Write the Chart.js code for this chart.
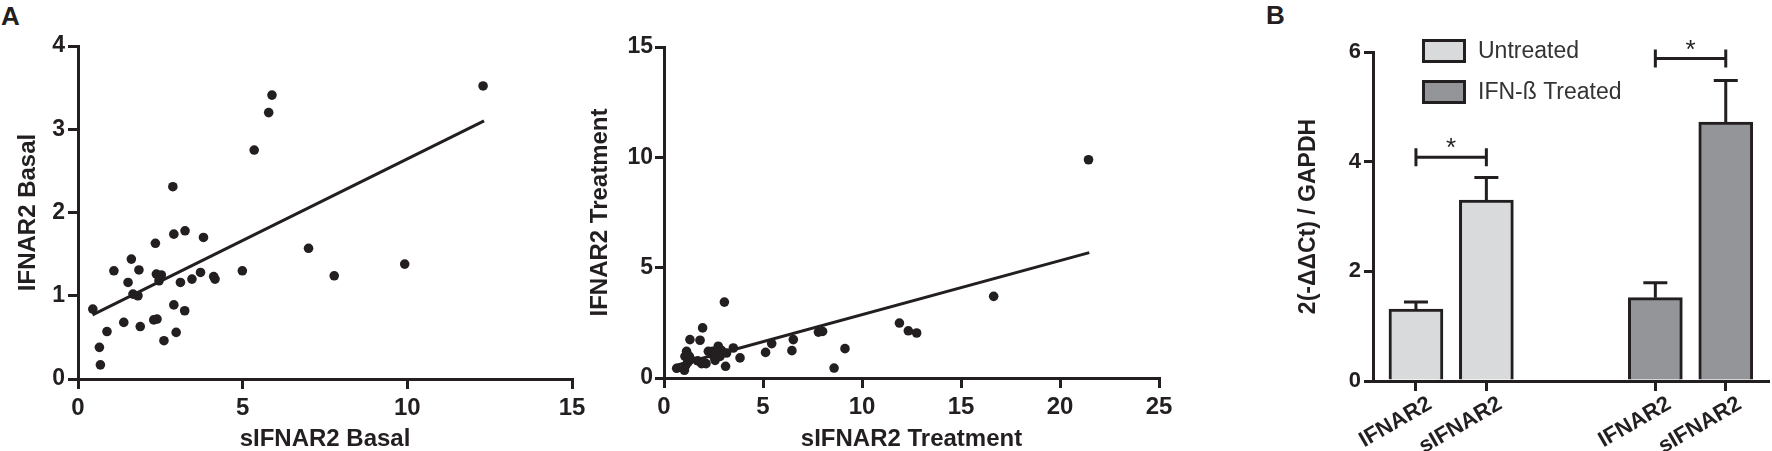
<!DOCTYPE html>
<html>
<head>
<meta charset="utf-8">
<script src="https://cdn.jsdelivr.net/npm/chart.js@4.4.0/dist/chart.umd.min.js"></script>
<style>
html,body{margin:0;padding:0;background:#fff;width:1772px;height:451px;overflow:hidden;position:relative;font-family:"Liberation Sans",Arial,Helvetica,sans-serif}
.pane{position:absolute;top:0;height:451px}
.lbl{position:absolute;font-weight:bold;font-size:26px;color:#231f20;line-height:1}
</style>
</head>
<body>
<div class="lbl" style="left:1px;top:3px">A</div>
<div class="lbl" style="left:1266px;top:2px">B</div>
<div class="pane" style="left:0;width:600px"><canvas id="c1"></canvas></div>
<div class="pane" style="left:560px;width:630px"><canvas id="c2"></canvas></div>
<div class="pane" style="left:1240px;width:532px"><canvas id="c3"></canvas></div>
<script>
// ---------- DATA ----------
// Panel A, left: basal
const basalX = [0.45,0.65,0.68,0.88,1.09,1.39,1.52,1.62,1.67,1.82,1.85,1.89,2.35,2.30,2.40,2.38,2.53,2.46,2.61,2.88,2.91,2.91,2.98,3.11,3.25,3.24,3.46,3.72,3.81,4.12,4.16,4.99,5.35,5.79,5.89,7.00,7.78,9.92,12.30];
const basalY = [0.84,0.38,0.17,0.57,1.30,0.68,1.16,1.44,1.02,1.00,1.31,0.63,1.63,0.71,0.72,1.26,1.25,1.18,0.46,2.31,1.74,0.89,0.56,1.16,1.78,0.82,1.20,1.28,1.70,1.23,1.20,1.30,2.75,3.20,3.41,1.57,1.24,1.38,3.52];
const basalFitX = [0.44, 12.33];
const basalFitY = [0.77, 3.10];
const basalXTicks = [0, 5, 10, 15];
const basalYTicks = [0, 1, 2, 3, 4];

// Panel A, middle: treatment
const treatX = [0.64,1.03,1.09,1.14,1.06,1.28,1.35,1.31,1.82,1.95,1.90,2.12,2.24,2.46,2.58,2.74,2.83,2.63,3.05,3.11,3.16,3.50,3.84,5.13,5.44,6.46,6.53,7.80,8.01,8.59,9.14,11.89,12.34,12.76,16.65,21.44,1.20,2.50,2.90,1.70];
const treatY = [0.44,0.35,0.56,1.21,0.98,0.98,0.83,1.74,1.71,2.27,0.65,0.65,1.21,1.21,0.80,1.44,0.98,1.13,3.44,0.53,1.13,1.36,0.91,1.16,1.56,1.24,1.74,2.08,2.11,0.45,1.33,2.49,2.14,2.04,3.70,9.89,0.70,1.00,1.25,0.78];
const treatFitX = [0.64, 21.48];
const treatFitY = [0.58, 5.68];
const treatXTicks = [0, 5, 10, 15, 20, 25];
const treatYTicks = [0, 5, 10, 15];

// Panel B: bars
const barLabels = ['IFNAR2', 'sIFNAR2', 'IFNAR2', 'sIFNAR2'];
const barPos = [1, 2, 4.4, 5.4];
const untreatedVals = [1.31, 3.30];
const untreatedErr = [0.13, 0.41];
const treatedVals = [1.52, 4.72];
const treatedErr = [0.27, 0.76];
const seriesNames = ['Untreated', 'IFN-\u00DF Treated'];
const sigPairs = [[0, 1, 4.08], [2, 3, 5.88]];
const barYTicks = [0, 2, 4, 6];

// ---------- STYLE ----------
const INK = '#231f20';
const FAM = '"Liberation Sans", Arial, Helvetica, sans-serif';
const LIGHT = '#d9dadb';
const DARK = '#939598';
Chart.defaults.font.family = FAM;
Chart.defaults.color = INK;

function fixedTicks(arr){ return s => { s.ticks = arr.map(v => ({value: v})); }; }
function axisBase(extra){
  return Object.assign({
    type: 'linear',
    grid: {display: true, drawOnChartArea: false, drawTicks: true, tickLength: 10, lineWidth: 3, color: INK, offset: false},
    border: {display: true, width: 3, color: INK}
  }, extra);
}

function scatterChart(id, xs, ys, fx, fy, cfg){
  return new Chart(document.getElementById(id), {
    type: 'scatter',
    data: {datasets: [
      {type: 'line', data: fx.map((x, i) => ({x: x, y: fy[i]})), borderColor: INK, borderWidth: 3, pointRadius: 0, fill: false, showLine: true},
      {type: 'scatter', data: xs.map((x, i) => ({x: x, y: ys[i]})), pointRadius: 4.8, pointBackgroundColor: INK, pointBorderWidth: 0, pointBorderColor: INK}
    ]},
    options: {
      responsive: true, maintainAspectRatio: false, animation: false,
      layout: {padding: cfg.pad},
      plugins: {legend: {display: false}, tooltip: {enabled: false}},
      scales: {
        x: axisBase({
          min: cfg.xMin, max: cfg.xMax,
          afterBuildTicks: fixedTicks(cfg.xTicks),
          afterFit: s => { s.height = cfg.xH; },
          ticks: {font: {size: 24, weight: 'bold'}, color: INK, padding: 5, maxRotation: 0},
          title: {display: true, text: cfg.xTitle, color: INK, font: {size: 24, weight: 'bold', lineHeight: 1}, padding: {top: 0, bottom: 0}}
        }),
        y: axisBase({
          min: cfg.yMin, max: cfg.yMax,
          afterBuildTicks: fixedTicks(cfg.yTicks),
          afterFit: s => { s.width = cfg.yW; },
          grid: {display: true, drawOnChartArea: false, drawTicks: true, tickLength: cfg.yTL, lineWidth: 3, color: INK, offset: false},
          ticks: {font: {size: 23, weight: 'bold'}, color: INK, padding: cfg.yTP},
          title: {display: true, text: cfg.yTitle, color: INK, font: {size: 24, weight: 'bold', lineHeight: 1}, padding: {top: cfg.yTitlePad, bottom: 0}}
        })
      }
    }
  });
}

scatterChart('c1', basalX, basalY, basalFitX, basalFitY, {
  pad: {left: 0, right: 28, top: 46, bottom: 0},
  xMin: 0, xMax: 15, yMin: 0, yMax: 4, xTicks: basalXTicks, yTicks: basalYTicks,
  xH: 72, yW: 78, yTL: 10, yTP: 3, yTitlePad: 16,
  xTitle: 'sIFNAR2 Basal', yTitle: 'IFNAR2 Basal'
});
scatterChart('c2', treatX, treatY, treatFitX, treatFitY, {
  pad: {left: 0, right: 31, top: 47, bottom: 0},
  xMin: 0, xMax: 25, yMin: 0, yMax: 15, xTicks: treatXTicks, yTicks: treatYTicks,
  xH: 73, yW: 104, yTL: 9, yTP: 2, yTitlePad: 28,
  xTitle: 'sIFNAR2 Treatment', yTitle: 'IFNAR2 Treatment'
});

// ---------- Panel B ----------
const errorBars = {
  id: 'errorBars',
  afterDatasetsDraw(chart){
    const ctx = chart.ctx, y = chart.scales.y;
    chart.data.datasets.forEach((ds, di) => {
      const meta = chart.getDatasetMeta(di);
      meta.data.forEach((bar, i) => {
        const v = ds.data[i].y, e = ds.errors[i];
        const yTop = y.getPixelForValue(v + e), yBar = y.getPixelForValue(v);
        ctx.save();
        ctx.strokeStyle = INK; ctx.lineWidth = 3; ctx.lineCap = 'butt';
        ctx.beginPath();
        ctx.moveTo(bar.x, yBar); ctx.lineTo(bar.x, yTop);
        ctx.moveTo(bar.x - 12, yTop); ctx.lineTo(bar.x + 12, yTop);
        ctx.stroke();
        ctx.restore();
      });
    });
  }
};
const sigBrackets = {
  id: 'sigBrackets',
  afterDatasetsDraw(chart){
    const ctx = chart.ctx, x = chart.scales.x, y = chart.scales.y;
    sigPairs.forEach(p => {
      const x1 = x.getPixelForValue(barPos[p[0]]), x2 = x.getPixelForValue(barPos[p[1]]), yy = y.getPixelForValue(p[2]);
      ctx.save();
      ctx.strokeStyle = INK; ctx.lineWidth = 3;
      ctx.beginPath();
      ctx.moveTo(x1, yy); ctx.lineTo(x2, yy);
      ctx.moveTo(x1, yy - 9); ctx.lineTo(x1, yy + 9);
      ctx.moveTo(x2, yy - 9); ctx.lineTo(x2, yy + 9);
      ctx.stroke();
      ctx.fillStyle = INK;
      ctx.font = '26px ' + FAM;
      ctx.textAlign = 'center'; ctx.textBaseline = 'alphabetic';
      ctx.fillText('*', (x1 + x2) / 2, yy - 1);
      ctx.restore();
    });
  }
};
const boxLegend = {
  id: 'boxLegend',
  afterDraw(chart){
    const ctx = chart.ctx;
    chart.data.datasets.forEach((ds, i) => {
      const bx = 182, by = 39 + i * 41, bw = 44, bh = 24;
      ctx.save();
      ctx.fillStyle = ds.backgroundColor;
      ctx.fillRect(bx, by, bw, bh);
      ctx.strokeStyle = INK; ctx.lineWidth = 3;
      ctx.strokeRect(bx + 1.5, by + 1.5, bw - 3, bh - 3);
      ctx.fillStyle = '#333333';
      ctx.font = '23px ' + FAM;
      ctx.textAlign = 'left'; ctx.textBaseline = 'middle';
      ctx.fillText(ds.label, 238, by + bh / 2 + 1);
      ctx.restore();
    });
  }
};

new Chart(document.getElementById('c3'), {
  type: 'bar',
  data: {datasets: [
    {label: seriesNames[0], data: untreatedVals.map((v, i) => ({x: barPos[i], y: v})), errors: untreatedErr,
     backgroundColor: LIGHT, borderColor: INK, borderWidth: 3, borderSkipped: 'start', barThickness: 54, grouped: false},
    {label: seriesNames[1], data: treatedVals.map((v, i) => ({x: barPos[i + 2], y: v})), errors: treatedErr,
     backgroundColor: DARK, borderColor: INK, borderWidth: 3, borderSkipped: 'start', barThickness: 54, grouped: false}
  ]},
  options: {
    responsive: true, maintainAspectRatio: false, animation: false,
    layout: {padding: {left: 0, right: 4, top: 52, bottom: 0}},
    plugins: {legend: {display: false}, tooltip: {enabled: false}},
    scales: {
      x: axisBase({
        min: 0.39, max: 6.0, offset: false,
        afterBuildTicks: fixedTicks(barPos),
        afterFit: s => { s.height = 70; },
        ticks: {font: {size: 22, weight: 'bold'}, color: INK, padding: 0, minRotation: 30, maxRotation: 30, labelOffset: 14, autoSkip: false,
          callback: v => barLabels[barPos.indexOf(v)]}
      }),
      y: axisBase({
        min: 0, max: 6,
        afterBuildTicks: fixedTicks(barYTicks),
        afterFit: s => { s.width = 133; },
        grid: {display: true, drawOnChartArea: false, drawTicks: true, tickLength: 9, lineWidth: 3, color: INK, offset: false},
        ticks: {font: {size: 22, weight: 'bold'}, color: INK, padding: 3},
        title: {display: true, text: '2(-\u0394\u0394Ct) / GAPDH', color: INK, font: {size: 23, weight: 'bold', lineHeight: 1}, padding: {top: 57, bottom: 0}}
      })
    }
  },
  plugins: [errorBars, sigBrackets, boxLegend]
});
</script>
</body>
</html>
